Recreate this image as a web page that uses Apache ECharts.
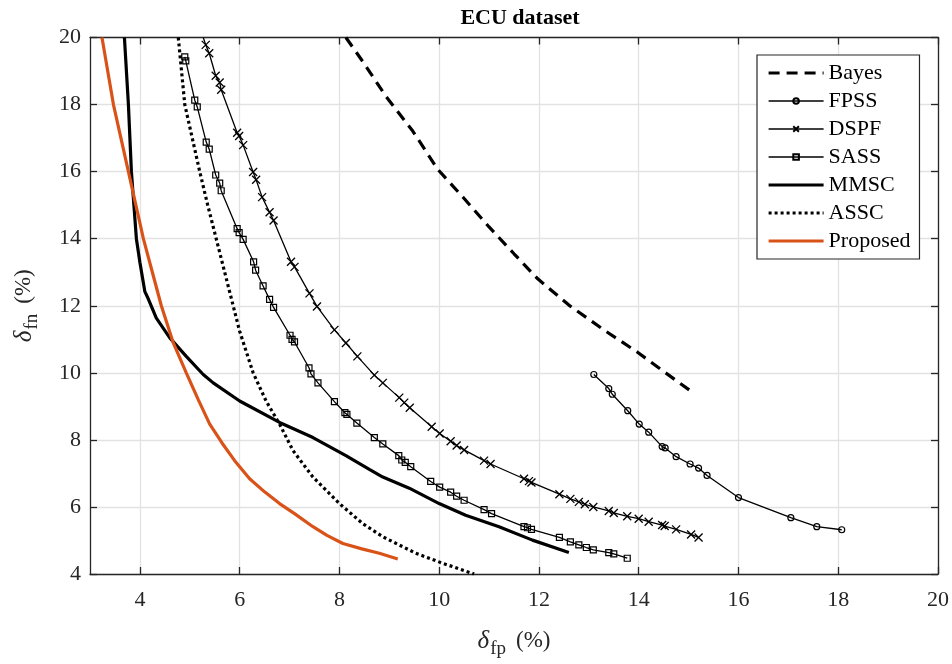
<!DOCTYPE html>
<html>
<head>
<meta charset="utf-8">
<script src="https://cdn.jsdelivr.net/npm/echarts@6/dist/echarts.min.js"></script>
<style>html,body{margin:0;padding:0;background:#fff;}#c{width:952px;height:664px;}</style>
</head>
<body>
<div id="c"></div>
<script>
const xTicks = [4, 6, 8, 10, 12, 14, 16, 18, 20];
const yTicks = [4, 6, 8, 10, 12, 14, 16, 18, 20];
const seriesNames = ['Bayes', 'FPSS', 'DSPF', 'SASS', 'MMSC', 'ASSC', 'Proposed'];
const plainLegend = ['Bayes', 'MMSC', 'ASSC', 'Proposed'];

const bayes = [[8.13,20],[8.47,19.28],[8.93,18.25],[9.47,17.21],[9.97,16.07],[10.5,15.2],[11.0,14.35],[11.5,13.55],[11.97,12.81],[12.6,12.02],[13.3,11.28],[13.97,10.62],[14.5,10.04],[15.05,9.45]];
const fpss = [[13.1,9.95],[13.4,9.53],[13.47,9.36],[13.78,8.87],[14.01,8.47],[14.2,8.23],[14.47,7.8],[14.53,7.76],[14.75,7.5],[15.03,7.28],[15.2,7.16],[15.37,6.94],[16.0,6.28],[17.05,5.68],[17.57,5.41],[18.07,5.32]];
const dspfTop = [5.27, 20];
const dspf = [[5.32,19.78],[5.39,19.53],[5.52,18.86],[5.6,18.66],[5.63,18.44],[5.95,17.16],[5.99,17.06],[6.07,16.79],[6.27,15.99],[6.33,15.76],[6.45,15.24],[6.6,14.79],[6.68,14.54],[7.03,13.31],[7.1,13.16],[7.4,12.37],[7.55,11.98],[7.9,11.28],[8.13,10.89],[8.36,10.49],[8.7,9.93],[8.87,9.7],[9.2,9.26],[9.3,9.11],[9.41,8.96],[9.85,8.39],[10.01,8.19],[10.23,7.96],[10.35,7.83],[10.5,7.7],[10.9,7.38],[11.03,7.28],[11.7,6.84],[11.8,6.77],[11.85,6.73],[12.41,6.38],[12.63,6.24],[12.8,6.15],[12.92,6.08],[13.09,6.0],[13.4,5.88],[13.5,5.82],[13.77,5.72],[14.0,5.65],[14.2,5.56],[14.47,5.46],[14.52,5.43],[14.75,5.33],[15.05,5.18],[15.2,5.09]];
const sass = [[4.9,19.42],[4.92,19.3],[5.1,18.13],[5.15,17.93],[5.33,16.88],[5.39,16.67],[5.52,15.9],[5.6,15.66],[5.63,15.43],[5.95,14.3],[5.99,14.18],[6.07,13.98],[6.28,13.31],[6.32,13.06],[6.47,12.59],[6.6,12.19],[6.68,11.95],[7.01,11.12],[7.05,11.0],[7.1,10.92],[7.39,10.15],[7.43,9.97],[7.57,9.7],[7.9,9.14],[8.11,8.81],[8.15,8.76],[8.35,8.5],[8.7,8.07],[8.87,7.88],[9.19,7.53],[9.25,7.4],[9.32,7.33],[9.43,7.2],[9.83,6.76],[10.01,6.59],[10.23,6.44],[10.35,6.32],[10.5,6.2],[10.9,5.92],[11.05,5.8],[11.7,5.41],[11.77,5.38],[11.85,5.33],[12.41,5.09],[12.63,4.96],[12.8,4.87],[12.95,4.79],[13.09,4.72],[13.4,4.64],[13.5,4.6],[13.77,4.47]];
const mmsc = [[3.69,20],[3.77,18],[3.83,16],[3.93,14],[4.0,13.3],[4.1,12.42],[4.17,12.2],[4.33,11.63],[4.6,11.04],[4.93,10.49],[5.27,9.95],[5.47,9.7],[6.0,9.16],[6.8,8.52],[7.47,8.07],[8.13,7.53],[8.6,7.12],[8.87,6.89],[9.4,6.56],[10.0,6.1],[10.53,5.75],[11.2,5.41],[11.87,5.01],[12.6,4.64]];
const assc = [[4.77,20],[4.9,18],[5.05,17],[5.2,16],[5.36,15],[5.53,14],[5.7,13],[5.87,12],[6.0,11.24],[6.27,10.0],[6.53,9.16],[6.8,8.47],[7.07,7.68],[7.47,6.89],[8.0,6.1],[8.47,5.5],[8.87,5.11],[9.53,4.62],[10.07,4.32],[10.7,4.0]];
const proposed = [[3.24,20],[3.47,18],[3.62,17],[3.77,16],[3.92,15],[4.07,14],[4.25,13],[4.43,12],[4.67,10.89],[4.93,10],[5.17,9.2],[5.4,8.47],[5.65,7.9],[5.9,7.38],[6.2,6.84],[6.5,6.45],[6.8,6.1],[7.1,5.8],[7.47,5.41],[7.75,5.15],[8.07,4.91],[8.45,4.75],[8.8,4.62],[9.17,4.45]];

const FONT = '"Liberation Serif", "DejaVu Serif", serif';
const AX = '#262626';
const GRID = '#e2e2e2';
const ORANGE = '#D95319';
const crossPath = 'path://M0,0L10,10M10,0L0,10';

const lineStyles = {
  Bayes: {color: '#000', width: 3.2, type: [11, 7], cap: 'butt'},
  FPSS: {color: '#000', width: 1.3},
  DSPF: {color: '#000', width: 1.3},
  SASS: {color: '#000', width: 1.3},
  MMSC: {color: '#000', width: 3.2},
  ASSC: {color: '#000', width: 3.2, type: [3, 3], cap: 'butt'},
  Proposed: {color: ORANGE, width: 3.2}
};

const chart = echarts.init(document.getElementById('c'), null, {renderer: 'canvas'});

function baseAxis(extra) {
  return Object.assign({
    type: 'value', min: 4, max: 20,
    axisLine: {show: true, onZero: false, lineStyle: {color: AX, width: 1.3}},
    axisTick: {show: true, inside: true, length: 7, lineStyle: {color: AX, width: 1.3}},
    splitLine: {show: false},
    axisLabel: {show: false}
  }, extra);
}

const nameRich = {
  d: {fontFamily: FONT, fontStyle: 'italic', fontSize: 25, color: AX},
  s: {fontFamily: FONT, fontSize: 19, color: AX, padding: [17, 0, 0, 1]},
  p: {fontFamily: FONT, fontSize: 23, color: AX, padding: [0, 0, 0, 10]}
};

const legendData = seriesNames.map(n => plainLegend.indexOf(n) >= 0
  ? {name: n, itemStyle: {opacity: 0}, lineStyle: Object.assign({}, lineStyles[n])}
  : {name: n, lineStyle: Object.assign({}, lineStyles[n])});

const option = {
  backgroundColor: '#fff',
  animation: false,
  textStyle: {fontFamily: FONT},
  title: {
    text: 'ECU dataset', left: 515, top: 2, textAlign: 'center',
    textStyle: {fontFamily: FONT, fontWeight: 'bold', fontSize: 22, color: '#000'}
  },
  grid: {left: 90, right: 12, top: 37.5, bottom: 87, containLabel: false},
  legend: {
    data: legendData,
    orient: 'vertical', left: 757, top: 55,
    padding: [4, 9, 4, 10],
    itemWidth: 55, itemHeight: 7, itemGap: 0,
    backgroundColor: '#fff', borderColor: AX, borderWidth: 1.2, borderRadius: 0,
    textStyle: {fontFamily: FONT, fontSize: 22, color: '#000', lineHeight: 28}
  },
  xAxis: [
    baseAxis({
      min: 3, max: 20, position: 'bottom',
      axisTick: {show: true, inside: true, length: 7, customValues: xTicks, lineStyle: {color: AX, width: 1.3}},
      axisLabel: {show: true, customValues: xTicks, margin: 15, fontFamily: FONT, fontSize: 22, color: AX},
      splitLine: {show: true, lineStyle: {color: GRID, width: 1.3}},
      name: '{d|δ}{s|fp}{p|(%)}', nameLocation: 'middle', nameGap: 49,
      nameTextStyle: {rich: nameRich}
    }),
    baseAxis({
      min: 3, max: 20, position: 'top',
      axisTick: {show: true, inside: true, length: 7, customValues: xTicks, lineStyle: {color: AX, width: 1.3}}
    })
  ],
  yAxis: [
    baseAxis({
      position: 'left', interval: 2,
      axisLabel: {show: true, margin: 9, fontFamily: FONT, fontSize: 22, color: AX},
      splitLine: {show: true, lineStyle: {color: GRID, width: 1.3}},
      name: '{d|δ}{s|fn}{p|(%)}', nameLocation: 'middle', nameGap: 48, nameRotate: 90,
      nameTextStyle: {rich: nameRich}
    }),
    baseAxis({position: 'right', interval: 2})
  ],
  series: [
    {
      name: 'Bayes', type: 'line', data: bayes, symbol: 'none',
      lineStyle: lineStyles.Bayes, itemStyle: {color: '#000'}, z: 3
    },
    {
      name: 'FPSS', type: 'line', data: fpss, symbol: 'circle', symbolSize: 6,
      lineStyle: lineStyles.FPSS,
      itemStyle: {color: 'rgba(0,0,0,0)', borderColor: '#000', borderWidth: 1.2}, z: 4
    },
    {
      name: 'DSPF', type: 'line',
      data: [{value: dspfTop, symbol: 'none'}].concat(dspf),
      symbol: crossPath, symbolSize: 8,
      lineStyle: lineStyles.DSPF,
      itemStyle: {color: 'rgba(0,0,0,0)', borderColor: '#000', borderWidth: 1.3}, z: 4
    },
    {
      name: 'SASS', type: 'line', data: sass, symbol: 'rect', symbolSize: 6,
      lineStyle: lineStyles.SASS,
      itemStyle: {color: 'rgba(0,0,0,0)', borderColor: '#000', borderWidth: 1.2}, z: 4
    },
    {
      name: 'MMSC', type: 'line', data: mmsc, symbol: 'none',
      lineStyle: lineStyles.MMSC, itemStyle: {color: '#000'}, z: 3
    },
    {
      name: 'ASSC', type: 'line', data: assc, symbol: 'none',
      lineStyle: lineStyles.ASSC, itemStyle: {color: '#000'}, z: 3
    },
    {
      name: 'Proposed', type: 'line', data: proposed, symbol: 'none',
      lineStyle: lineStyles.Proposed, itemStyle: {color: ORANGE}, z: 5
    }
  ]
};
chart.setOption(option);
</script>
</body>
</html>
